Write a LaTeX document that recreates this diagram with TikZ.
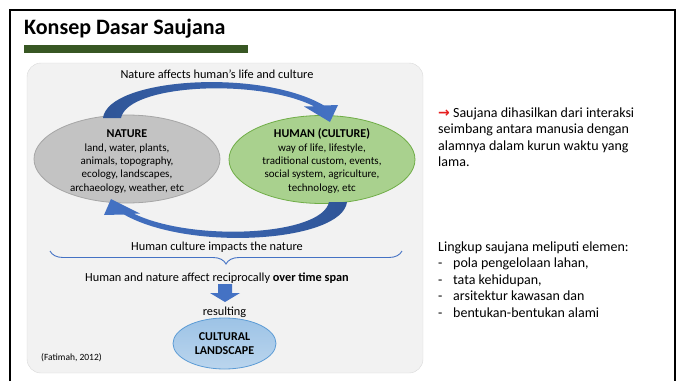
\documentclass[tikz,border=0pt]{standalone}
\usepackage{fontspec}
\setmainfont{Carlito}
\newfontfamily\symfont{DejaVu Sans}
\usepackage{xcolor}
\usepackage{tikz}
\usetikzlibrary{shapes.geometric, arrows.meta, positioning, decorations.pathreplacing}
\definecolor{titlegreen}{RGB}{56, 87, 35}
\definecolor{panelgray}{RGB}{242, 242, 242}
\definecolor{panelline}{RGB}{217, 217, 217}
\definecolor{naturegray}{RGB}{195, 195, 195}
\definecolor{natureline}{RGB}{166, 166, 166}
\definecolor{humangreen}{RGB}{169, 209, 142}
\definecolor{humanline}{RGB}{112, 173, 71}
\definecolor{landblue}{RGB}{157, 195, 230}
\definecolor{landline}{RGB}{91, 155, 213}
\definecolor{arrowdark}{RGB}{47, 85, 151}
\definecolor{arrowblue}{RGB}{68, 114, 196}
\definecolor{pointred}{RGB}{230, 30, 30}

\begin{document}
\begin{tikzpicture}[
    x=1pt, y=-1pt,
    txt/.style={inner sep=0pt, anchor=base, align=center, font=\fontsize{12.3}{13.3}\selectfont},
    blob/.style={ellipse, draw, line width=0.8pt, minimum width=186pt, minimum height=88pt, inner sep=0pt},
    blobtext/.style={inner sep=0pt, anchor=base, align=center, font=\fontsize{11}{13.3}\selectfont},
    head/.style={font=\fontsize{12}{13.3}\selectfont\bfseries},
    sidetext/.style={inner sep=0pt, anchor=base west, align=left, font=\fontsize{14}{16.5}\selectfont},
    curvearrow/.style={draw=none}
]
    \useasboundingbox (0,0) rectangle (681,381);
    \draw[line width=2.5pt] (10,381) -- (10,10) -- (675,10) -- (675,381);
    \node[anchor=base west, inner sep=0pt, font=\fontsize{22}{26}\selectfont\bfseries] (title) at (24,34) {Konsep Dasar Saujana};
    \fill[titlegreen] (24,45) rectangle (248,53);

    \draw[panelline, fill=panelgray, rounded corners=14pt] (27,63) rectangle (423,373);

    \node[txt] (affects) at (217,78) {Nature affects human’s life and culture};
    \node[blob, fill=naturegray, draw=natureline] (nature) at (127,159) {};
    \node[blobtext] (naturetext) at (127,191) {{\fontsize{12}{13.3}\selectfont\bfseries NATURE}\\land, water, plants,\\animals, topography,\\ecology, landscapes,\\archaeology, weather, etc};
    \node[blob, fill=humangreen, draw=humanline] (human) at (322,159.5) {};
    \node[blobtext] (humantext) at (322,191) {{\fontsize{12}{13.3}\selectfont\bfseries HUMAN (CULTURE)}\\way of life, lifestyle,\\traditional custom, events,\\social system, agriculture,\\technology, etc};

    \shade[curvearrow, left color=arrowdark, right color=arrowblue]
        (103,118) .. controls (108,78) and (260,68) .. (324,105.5)
        -- (338,105) -- (330,122) -- (304,106.5) -- (314,106.3)
        .. controls (258,78) and (128,84) .. (121,118) -- cycle;
    \shade[curvearrow, left color=arrowblue, right color=arrowdark]
        (347,202) .. controls (342,242) and (190,252) .. (124,214.5)
        -- (104,215) -- (111,199) -- (140,213.5) -- (134,213.7)
        .. controls (192,242) and (322,236) .. (329,202) -- cycle;

    \draw[arrowblue, line width=0.9pt, decorate, decoration={brace, amplitude=13pt}] (402,251) -- (50,251);
    \node[txt] (impacts) at (217,250) {Human culture impacts the nature};
    \node[txt] (recip) at (217,281) {Human and nature affect reciprocally \textbf{over time span}};
    \fill[arrowblue] (218,284) -- (232,284) -- (232,293) -- (240,293) -- (225,302) -- (210,293) -- (218,293) -- cycle;
    \node[txt] (result) at (224.5,315) {resulting};
    \node[ellipse, draw=landline, line width=0.8pt, top color=landblue, bottom color=landblue!70, minimum width=103pt, minimum height=51pt, inner sep=0pt, align=center, font=\fontsize{12}{14}\selectfont\bfseries] (landscape) at (224.5,343.5) {CULTURAL\\LANDSCAPE};
    \node[anchor=base west, inner sep=0pt, font=\fontsize{9.5}{11}\selectfont] (source) at (41,360) {(Fatimah, 2012)};

    \node[sidetext] (summary) at (438,166.7) {{\symfont\bfseries\color{pointred}→} Saujana dihasilkan dari interaksi\\seimbang antara manusia dengan\\alamnya dalam kurun waktu yang\\lama.};
    \node[sidetext] (scope) at (438,317.3) {Lingkup saujana meliputi elemen:\\\makebox[15pt][l]{-}pola pengelolaan lahan,\\\makebox[15pt][l]{-}tata kehidupan,\\\makebox[15pt][l]{-}arsitektur kawasan dan\\\makebox[15pt][l]{-}bentukan-bentukan alami};
\end{tikzpicture}
\end{document}
